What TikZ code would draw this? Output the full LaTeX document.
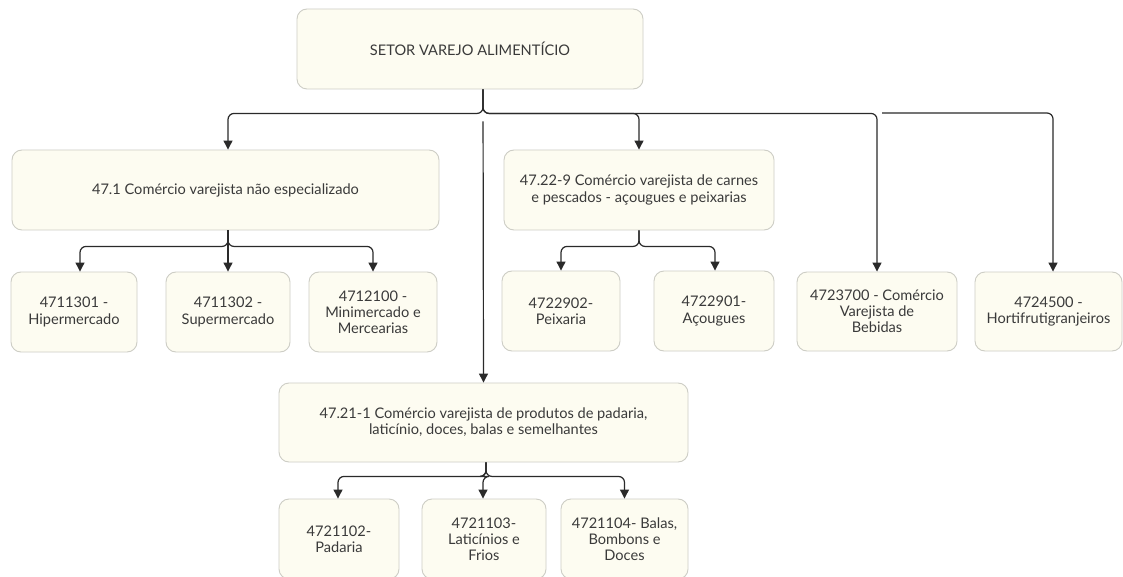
\documentclass[tikz,border=0pt]{standalone}
\usepackage{fontspec}
\setmainfont{Lato}
\usetikzlibrary{arrows.meta}
\definecolor{boxfill}{HTML}{FDFCF1}
\definecolor{boxline}{HTML}{CDCDC5}
\definecolor{txt}{HTML}{3A3A3A}
\definecolor{conncol}{HTML}{2A2A2A}
\tikzset{
  box/.style={draw=boxline, line width=0.9pt, fill=boxfill, rounded corners=10pt,
    align=center, text=txt, font=\fontsize{14.6}{16.2}\selectfont, inner sep=2pt},
  conn/.style={draw=conncol, line width=1.2pt, rounded corners=6pt},
  arr/.style={conn, -{Triangle[width=9pt,length=9pt]}}
}
\begin{document}
\begin{tikzpicture}[x=1pt,y=-1pt]
\useasboundingbox[fill=white] (0,0) rectangle (1123,577);
% boxes
\node[box, minimum width=346pt, minimum height=80pt] (top) at (470,49) {SETOR VAREJO ALIMENTÍCIO};
\node[box, minimum width=427pt, minimum height=80pt] (c471) at (225.5,190) {47.1 Comércio varejista não especializado};
\node[box, minimum width=270pt, minimum height=80pt] (c4722) at (639,190) {47.22-9 Comércio varejista de carnes\\e pescados - açougues e peixarias};
\node[box, minimum width=126pt, minimum height=80pt] (b1) at (74,312) {4711301 -\\Hipermercado};
\node[box, minimum width=124pt, minimum height=80pt] (b2) at (228,312) {4711302 -\\Supermercado};
\node[box, minimum width=128pt, minimum height=80pt] (b3) at (373,312) {4712100 -\\Minimercado e\\Mercearias};
\node[box, minimum width=118pt, minimum height=80pt] (p1) at (561,311) {4722902-\\Peixaria};
\node[box, minimum width=120pt, minimum height=80pt] (p2) at (714,311) {4722901-\\Açougues};
\node[box, minimum width=160pt, minimum height=79pt] (beb) at (877,311.5) {4723700 - Comércio\\Varejista de\\Bebidas};
\node[box, minimum width=147pt, minimum height=79pt] (hort) at (1048.5,311.5) {4724500 -\\Hortifrutigranjeiros};
\node[box, minimum width=409pt, minimum height=79pt] (c211) at (483.5,422.5) {47.21-1 Comércio varejista de produtos de padaria,\\laticínio, doces, balas e semelhantes};
\node[box, minimum width=120pt, minimum height=80pt] (d1) at (339,539) {4721102-\\Padaria};
\node[box, minimum width=124pt, minimum height=80pt] (d2) at (484,539) {4721103-\\Laticínios e\\Frios};
\node[box, minimum width=127pt, minimum height=80pt] (d3) at (624.5,539) {4721104- Balas,\\Bombons e\\Doces};
\coordinate (jump) at (882,113);
% connectors from top
\draw[arr] ([xshift=13pt]top.south) -- ++(0,24) -| ([xshift=2.5pt]c471.north);
\draw[arr] ([xshift=13pt]top.south) -- ++(0,24) -| (c4722.north);
\draw[arr] ([xshift=13pt]top.south) -- ++(0,24) -| (beb.north);
\draw[arr] (jump) -| ([xshift=4.5pt]hort.north);
\draw[arr, shorten <=32pt] ([xshift=13pt]top.south) -- (c211.north);
% 47.1 children
\draw[arr] ([xshift=2.5pt]c471.south) -- ++(0,16) -| ([xshift=6pt]b1.north);
\draw[arr] ([xshift=2.5pt]c471.south) -- (b2.north);
\draw[arr] ([xshift=2.5pt]c471.south) -- ++(0,16) -| (b3.north);
% 47.22 children
\draw[arr] (c4722.south) -- ++(0,16) -| (p1.north);
\draw[arr] (c4722.south) -- ++(0,16) -| ([xshift=1pt]p2.north);
% 47.21 children
\draw[arr] ([xshift=2.5pt]c211.south) -- ++(0,14) -| ([xshift=-1pt]d1.north);
\draw[arr] ([xshift=2.5pt]c211.south) -- ++(0,14) -| ([xshift=-1pt]d2.north);
\draw[arr] ([xshift=2.5pt]c211.south) -- ++(0,14) -| (d3.north);
\end{tikzpicture}
\end{document}
